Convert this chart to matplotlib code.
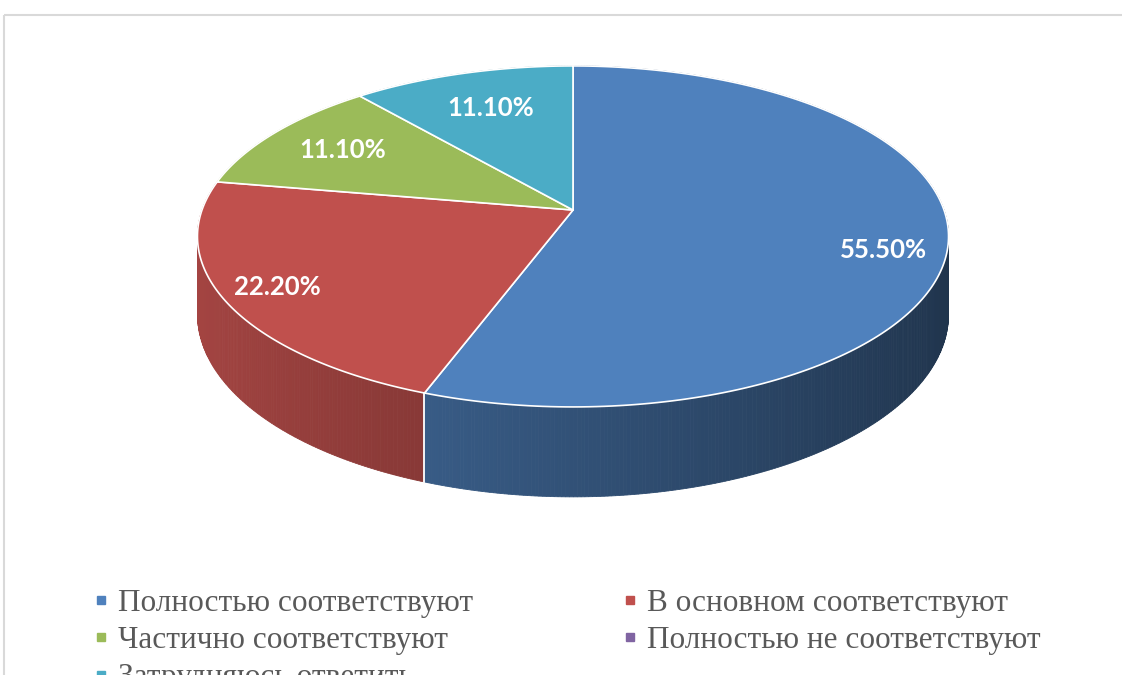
import numpy as np
import matplotlib
matplotlib.use("Agg")
import matplotlib.pyplot as plt
from matplotlib.patches import Polygon, Rectangle
from matplotlib.lines import Line2D
from matplotlib.colors import to_rgb

# data
categories = ["Полностью соответствуют", "В основном соответствуют",
              "Частично соответствуют", "Полностью не соответствуют",
              "Затрудняюсь ответить"]
values = [55.5, 22.2, 11.1, 0.0, 11.1]
colors = ["#4F81BD", "#C0504D", "#9BBB59", "#8064A2", "#4BACC6"]

# pie geometry (pixels)
CX, CY = 573, 210
RX, RY = 371, 166.4
K = 0.155          # perspective strength
HZ = 76            # thickness
label_r = [0.84, 0.86, 0.76, 0.0, 0.72]
label_frac = [0.53, 0.5, 0.5, 0.5, 0.5]


def proj(u, v, z=0.0):
    w = 1 + K * v
    return CX + RX * u / w, CY - (RY * v + HZ * z) / w


fig = plt.figure(figsize=(11.22, 6.75), dpi=100)
ax = fig.add_axes([0, 0, 1, 1])
ax.set_xlim(0, 1122)
ax.set_ylim(675, 0)
ax.axis("off")

# chart frame
ax.add_patch(Rectangle((4.5, 14.5), 1200, 800, fill=False, ec="#D9D9D9", lw=1.5))

total = sum(values)
fracs = np.array(values) / total
starts = 90 - 360 * np.concatenate([[0], np.cumsum(fracs)[:-1]])
ends = starts - 360 * fracs

# side strips, back to front
strips = []
for i, (a0, a1) in enumerate(zip(starts, ends)):
    if values[i] == 0:
        continue
    n = max(2, int(abs(a0 - a1) / 0.5))
    th = np.radians(np.linspace(a0, a1, n + 1))
    for ta, tb in zip(th[:-1], th[1:]):
        tm = 0.5 * (ta + tb)
        strips.append((np.sin(tm), ta, tb, i))
strips.sort(key=lambda s: -s[0])
for vm, ta, tb, i in strips:
    um = np.cos(0.5 * (ta + tb))
    f = 0.63 - 0.23 * um
    c = np.clip(np.array(to_rgb(colors[i])) * f, 0, 1)
    pts = [proj(np.cos(ta), np.sin(ta)), proj(np.cos(tb), np.sin(tb)),
           proj(np.cos(tb), np.sin(tb), -1), proj(np.cos(ta), np.sin(ta), -1)]
    ax.add_patch(Polygon(pts, closed=True, fc=c, ec=c, lw=0.6))

# white separators on the front side
for a in starts:
    t = np.radians(a)
    if np.sin(t) < 0:
        p0 = proj(np.cos(t), np.sin(t))
        p1 = proj(np.cos(t), np.sin(t), -1)
        ax.plot([p0[0], p1[0]], [p0[1], p1[1]], color="white", lw=1.3)

# top faces
for i, (a0, a1) in enumerate(zip(starts, ends)):
    if values[i] == 0:
        continue
    th = np.radians(np.linspace(a0, a1, 200))
    pts = [proj(0, 0)] + [proj(np.cos(t), np.sin(t)) for t in th]
    ax.add_patch(Polygon(pts, closed=True, fc=colors[i], ec="white", lw=1.2,
                         joinstyle="round"))

# data labels
for i, (a0, a1) in enumerate(zip(starts, ends)):
    if values[i] == 0:
        continue
    t = np.radians(a0 + label_frac[i] * (a1 - a0))
    x, y = proj(label_r[i] * np.cos(t), label_r[i] * np.sin(t))
    ax.text(x, y, f"{values[i]:.2f}%", color="white", fontsize=18.5,
            fontweight="bold", family="Lato", ha="center", va="center")

# legend (row-major order like the original)
handles = [Line2D([], [], ls="none", marker="s", ms=6, mfc=c, mec=c) for c in colors]
order = [0, 2, 4, 1, 3]
leg = ax.legend([handles[j] for j in order], [categories[j] for j in order],
                ncol=2, loc="upper left", bbox_to_anchor=(79.5 / 1122, 1 - 573 / 675),
                frameon=False, borderpad=0, handlelength=0.35, handletextpad=0.37,
                columnspacing=4.85, labelspacing=0.27,
                prop={"family": "Liberation Serif", "size": 22.5})
for txt in leg.get_texts():
    txt.set_color("#595959")

fig.savefig("out.png", dpi=100)
